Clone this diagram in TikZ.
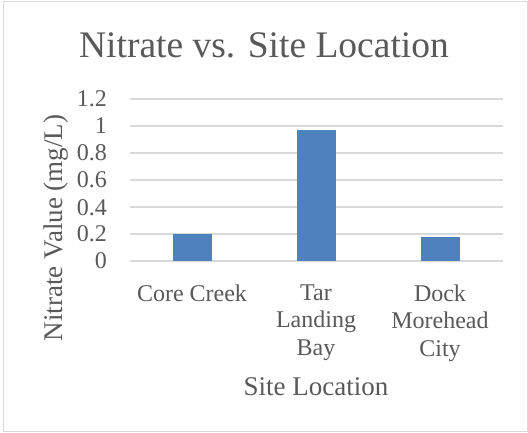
\documentclass[tikz,border=0pt]{standalone}
\usepackage{fontspec}
\setmainfont{Liberation Serif}
\definecolor{txtgray}{HTML}{595959}
\definecolor{gridgray}{HTML}{D9D9D9}
\definecolor{barblue}{HTML}{4F81BD}
\begin{document}
\begin{tikzpicture}[x=1pt,y=-1pt,
  ticklab/.style={anchor=base east,inner sep=0pt,text=txtgray,font=\fontsize{24}{27.5}\selectfont},
  catlab/.style={anchor=north,inner sep=0pt,align=center,text=txtgray,font=\fontsize{24}{27.5}\selectfont},
  axtitle/.style={anchor=base,inner sep=0pt,text=txtgray,font=\fontsize{27}{32}\selectfont},
  gridline/.style={draw=gridgray,line width=1.2pt},
  bar/.style={fill=barblue}]
\useasboundingbox (0,0) rectangle (528,433);
\draw[draw=gridgray,line width=1pt] (3.5,1.7) rectangle (527,431.5);
% title
\node[anchor=base,inner sep=0pt,text=txtgray,font=\fontsize{37.5}{44}\selectfont] (title) at (264,58) {Nitrate vs. Site Location};
% grid and tick labels
\foreach \v/\lab [count=\i] in {0/0,0.2/0.2,0.4/0.4,0.6/0.6,0.8/0.8,1/1,1.2/1.2}{
  \coordinate (gl\i) at (130,{261-135*\v});
  \coordinate (gr\i) at (503,{261-135*\v});
  \draw[gridline] (gl\i) -- (gr\i);
  \node[ticklab] (tick\i) at (107,{261-135*\v+8}) {\lab};
}
% bars
\fill[bar] (172.5,261) rectangle (211.5,{261-135*0.2});
\fill[bar] (296.5,261) rectangle (335.5,{261-135*0.97});
\fill[bar] (420.5,261) rectangle (459.5,{261-135*0.18});
% category labels
\node[catlab] (cat1) at (192,284.5) {Core Creek};
\node[catlab] (cat2) at (316,284.5) {Tar\\Landing\\Bay};
\node[catlab] (cat3) at (440,284.5) {Dock\\Morehead\\City};
% axis titles
\node[axtitle] (xtitle) at (316,395) {Site Location};
\node[axtitle,rotate=90] (ytitle) at (62,228) {Nitrate Value (mg/L)};
\end{tikzpicture}
\end{document}
